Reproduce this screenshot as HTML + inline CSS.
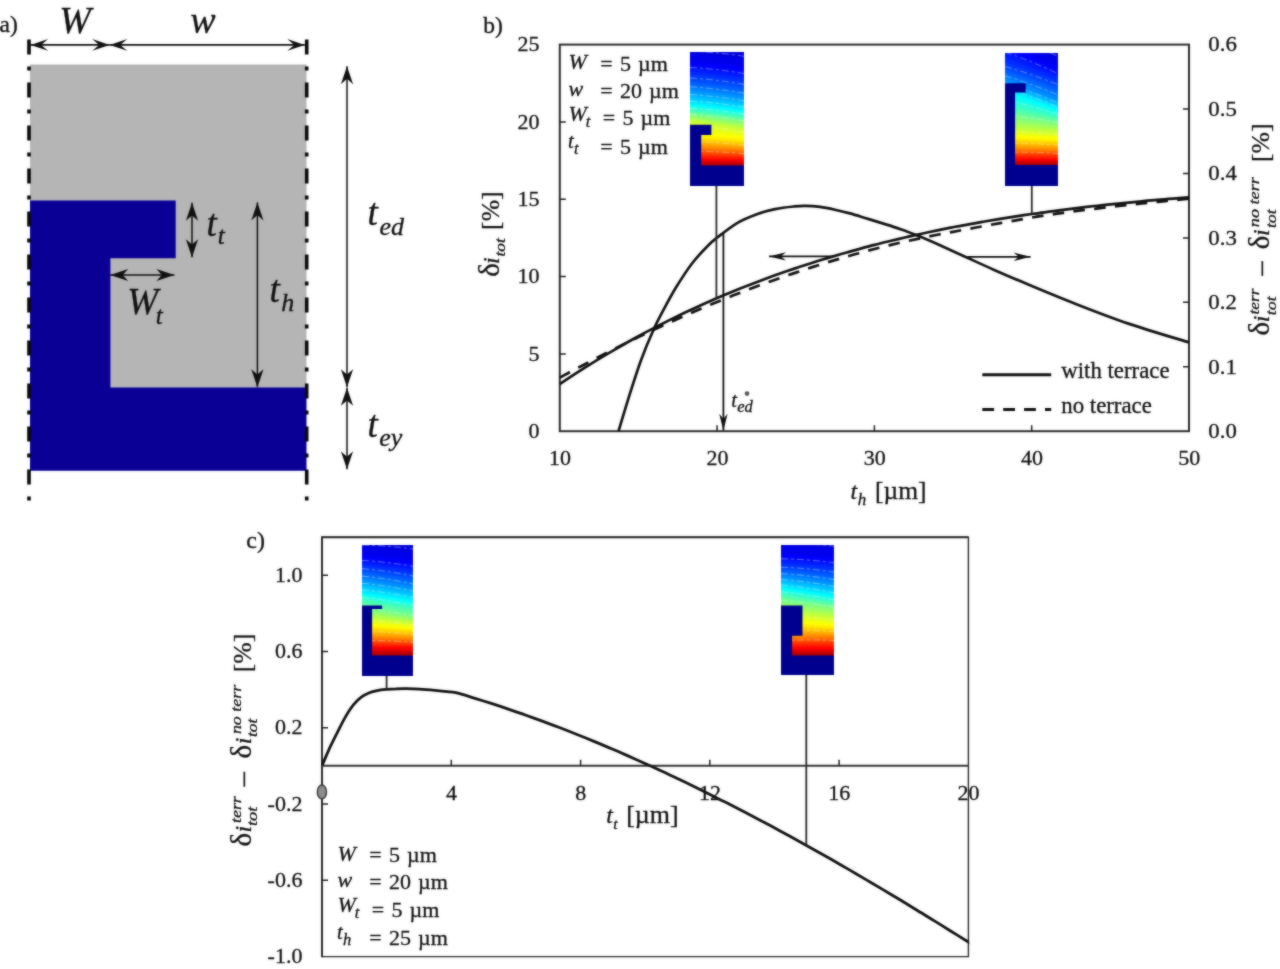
<!DOCTYPE html>
<html><head><meta charset="utf-8"><title>figure</title>
<style>
html,body{margin:0;padding:0;background:#fff;}
body{width:1280px;height:969px;overflow:hidden;}
svg{display:block}
text{font-family:"Liberation Serif",serif;fill:#111;stroke:#111;stroke-width:0.3px}
</style></head><body>
<svg width="1280" height="969" viewBox="0 0 1280 969">
<defs><filter id="bl" x="0" y="0" width="1280" height="969" filterUnits="userSpaceOnUse" color-interpolation-filters="sRGB"><feGaussianBlur stdDeviation="0.9"/></filter></defs>
<g id="all" opacity="0.999">
<rect x="0" y="0" width="1280" height="969" fill="#fff"/>

<g id="panel-a">
<rect x="30" y="64.5" width="276.5" height="325" fill="#b5b5b5"/>
<path d="M30 200.5 H175.7 V258.3 H110.4 V387.5 H306.5 V470.7 H30 Z" fill="#0a0096"/>
<line x1="29.0" y1="39.5" x2="29.0" y2="501" stroke="#0a0a0a" stroke-width="3.6" stroke-dasharray="15 12 4 12"/>
<line x1="306.7" y1="39.5" x2="306.7" y2="501" stroke="#0a0a0a" stroke-width="3.6" stroke-dasharray="15 12 4 12"/>
<line x1="30.60" y1="44.90" x2="109.70" y2="44.90" stroke="#111" stroke-width="1.7"/><path d="M109.70 44.90 L92.20 50.80 L99.20 44.90 L92.20 39.00 Z" fill="#111"/><path d="M30.60 44.90 L48.10 39.00 L41.10 44.90 L48.10 50.80 Z" fill="#111"/>
<line x1="109.70" y1="44.90" x2="304.80" y2="44.90" stroke="#111" stroke-width="1.7"/><path d="M304.80 44.90 L287.30 50.80 L294.30 44.90 L287.30 39.00 Z" fill="#111"/><path d="M109.70 44.90 L127.20 39.00 L120.20 44.90 L127.20 50.80 Z" fill="#111"/>
<text x="75.00" y="33.00" font-size="38" font-style="italic" text-anchor="middle">W</text>
<text x="203.00" y="33.00" font-size="38" font-style="italic" text-anchor="middle">w</text>
<line x1="192.00" y1="202.80" x2="192.00" y2="257.20" stroke="#111" stroke-width="1.5"/><path d="M192.00 257.20 L185.90 239.20 L192.00 244.60 L198.10 239.20 Z" fill="#111"/><path d="M192.00 202.80 L198.10 220.80 L192.00 215.40 L185.90 220.80 Z" fill="#111"/>
<line x1="110.20" y1="275.00" x2="174.40" y2="275.00" stroke="#111" stroke-width="1.5"/><path d="M174.40 275.00 L156.40 281.10 L161.80 275.00 L156.40 268.90 Z" fill="#111"/><path d="M110.20 275.00 L128.20 268.90 L122.80 275.00 L128.20 281.10 Z" fill="#111"/>
<line x1="257.40" y1="202.40" x2="257.40" y2="387.20" stroke="#111" stroke-width="1.5"/><path d="M257.40 387.20 L251.30 369.20 L257.40 374.60 L263.50 369.20 Z" fill="#111"/><path d="M257.40 202.40 L263.50 220.40 L257.40 215.00 L251.30 220.40 Z" fill="#111"/>
<line x1="347.00" y1="66.20" x2="347.00" y2="387.20" stroke="#111" stroke-width="1.5"/><path d="M347.00 387.20 L340.90 369.20 L347.00 374.60 L353.10 369.20 Z" fill="#111"/><path d="M347.00 66.20 L353.10 84.20 L347.00 78.80 L340.90 84.20 Z" fill="#111"/>
<line x1="347.00" y1="387.80" x2="347.00" y2="469.30" stroke="#111" stroke-width="1.5"/><path d="M347.00 469.30 L340.90 451.30 L347.00 456.70 L353.10 451.30 Z" fill="#111"/><path d="M347.00 387.80 L353.10 405.80 L347.00 400.40 L340.90 405.80 Z" fill="#111"/>
<text x="206.50" y="235.60" font-size="37" font-style="italic">t<tspan font-size="25" dy="8.5" dx="1">t</tspan></text>
<text x="127.30" y="313.80" font-size="37" font-style="italic">W<tspan font-size="25" dy="10" dx="-2.5">t</tspan></text>
<text x="269.50" y="302.00" font-size="37" font-style="italic">t<tspan font-size="26" dy="9" dx="1.5">h</tspan></text>
<text x="367.50" y="225.00" font-size="37" font-style="italic">t<tspan font-size="26" dy="9.5" dx="1.7">ed</tspan></text>
<text x="367.50" y="436.70" font-size="37" font-style="italic">t<tspan font-size="26" dy="9.5" dx="1.5">ey</tspan></text>
<text x="-0.50" y="31.60" font-size="23.5" text-anchor="start">a)</text>
</g>
<g id="panel-b">
<g><clipPath id="g1"><rect x="690.0" y="52.0" width="54.0" height="134.0"/></clipPath><g clip-path="url(#g1)"><rect x="690.0" y="51.0" width="54.0" height="136.0" fill="#0000db"/><path d="M690.0 53.6L744.0 59.0V187.0H690.0Z" fill="#0000eb"/><path d="M690.0 60.7L744.0 66.4V187.0H690.0Z" fill="#0000fb"/><path d="M690.0 64.8L744.0 70.7V187.0H690.0Z" fill="#000cff"/><path d="M690.0 68.1L744.0 74.1V187.0H690.0Z" fill="#001cff"/><path d="M690.0 71.4L744.0 77.5V187.0H690.0Z" fill="#002cff"/><path d="M690.0 74.6L744.0 80.9V187.0H690.0Z" fill="#003cff"/><path d="M690.0 77.9L744.0 84.3V187.0H690.0Z" fill="#004dff"/><path d="M690.0 81.2L744.0 87.7V187.0H690.0Z" fill="#005dff"/><path d="M690.0 83.8L744.0 90.4V187.0H690.0Z" fill="#006dff"/><path d="M690.0 86.3L744.0 92.8V187.0H690.0Z" fill="#007dff"/><path d="M690.0 88.7L744.0 95.1V187.0H690.0Z" fill="#008dff"/><path d="M690.0 91.1L744.0 97.5V187.0H690.0Z" fill="#009dff"/><path d="M690.0 93.6L744.0 99.9V187.0H690.0Z" fill="#00adff"/><path d="M690.0 95.8L744.0 102.0V187.0H690.0Z" fill="#00bdff"/><path d="M690.0 97.9L744.0 104.0V187.0H690.0Z" fill="#00cdff"/><path d="M690.0 99.9L744.0 106.0V187.0H690.0Z" fill="#00ddff"/><path d="M690.0 102.0L744.0 108.0V187.0H690.0Z" fill="#00edff"/><path d="M690.0 104.1L744.0 110.0V187.0H690.0Z" fill="#00fdff"/><path d="M690.0 105.5L744.0 111.5V187.0H690.0Z" fill="#0efff1"/><path d="M690.0 106.8L744.0 112.8V187.0H690.0Z" fill="#1effe1"/><path d="M690.0 108.1L744.0 114.2V187.0H690.0Z" fill="#2effd1"/><path d="M690.0 109.4L744.0 115.5V187.0H690.0Z" fill="#3effc1"/><path d="M690.0 110.7L744.0 116.9V187.0H690.0Z" fill="#4effb1"/><path d="M690.0 111.8L744.0 118.1V187.0H690.0Z" fill="#5effa1"/><path d="M690.0 113.0L744.0 119.4V187.0H690.0Z" fill="#6eff91"/><path d="M690.0 114.2L744.0 120.7V187.0H690.0Z" fill="#7eff81"/><path d="M690.0 115.4L744.0 122.3V187.0H690.0Z" fill="#8eff71"/><path d="M690.0 116.7L744.0 124.0V187.0H690.0Z" fill="#9eff61"/><path d="M690.0 118.0L744.0 125.6V187.0H690.0Z" fill="#aeff51"/><path d="M690.0 119.3L744.0 127.2V187.0H690.0Z" fill="#beff41"/><path d="M690.0 120.6L744.0 128.8V187.0H690.0Z" fill="#ceff31"/><path d="M690.0 123.7L744.0 131.2V187.0H690.0Z" fill="#deff21"/><path d="M690.0 127.3L744.0 133.8V187.0H690.0Z" fill="#eeff11"/><path d="M690.0 130.8L744.0 136.4V187.0H690.0Z" fill="#feff01"/><path d="M690.0 134.3L744.0 139.0V187.0H690.0Z" fill="#fff000"/><path d="M690.0 137.1L744.0 141.2V187.0H690.0Z" fill="#ffe000"/><path d="M690.0 138.8L744.0 142.6V187.0H690.0Z" fill="#ffd000"/><path d="M690.0 140.4L744.0 144.0V187.0H690.0Z" fill="#ffc000"/><path d="M690.0 142.0L744.0 145.5V187.0H690.0Z" fill="#ffb000"/><path d="M690.0 143.7L744.0 146.9V187.0H690.0Z" fill="#ffa000"/><path d="M690.0 145.3L744.0 148.3V187.0H690.0Z" fill="#ff9000"/><path d="M690.0 146.9L744.0 149.7V187.0H690.0Z" fill="#ff8000"/><path d="M690.0 148.4L744.0 151.0V187.0H690.0Z" fill="#ff6f00"/><path d="M690.0 149.8L744.0 152.2V187.0H690.0Z" fill="#ff5f00"/><path d="M690.0 151.3L744.0 153.5V187.0H690.0Z" fill="#ff4f00"/><path d="M690.0 152.7L744.0 154.7V187.0H690.0Z" fill="#ff3f00"/><path d="M690.0 154.2L744.0 156.0V187.0H690.0Z" fill="#ff2f00"/><path d="M690.0 155.6L744.0 157.2V187.0H690.0Z" fill="#ff1f00"/><path d="M690.0 157.1L744.0 158.4V187.0H690.0Z" fill="#ff0f00"/><path d="M690.0 158.5L744.0 159.7V187.0H690.0Z" fill="#fe0000"/><path d="M690.0 159.7L744.0 160.6V187.0H690.0Z" fill="#ee0000"/><path d="M690.0 160.8L744.0 161.6V187.0H690.0Z" fill="#de0000"/><path d="M690.0 162.0L744.0 162.5V187.0H690.0Z" fill="#ce0000"/><path d="M690.0 163.1L744.0 163.5V187.0H690.0Z" fill="#be0000"/><path d="M690.0 164.3L744.0 164.5V187.0H690.0Z" fill="#ae0000"/><path d="M690.0 165.4L744.0 165.4V187.0H690.0Z" fill="#9e0000"/><path d="M690.0 51.1Q717.0 52.2 744.0 56.3" fill="none" stroke="#fff" stroke-opacity="0.4" stroke-width="0.9" stroke-dasharray="7 3 3 3"/><path d="M690.0 67.5Q717.0 69.0 744.0 73.5" fill="none" stroke="#fff" stroke-opacity="0.4" stroke-width="0.9" stroke-dasharray="7 3 3 3"/><path d="M690.0 77.9Q717.0 79.6 744.0 84.3" fill="none" stroke="#fff" stroke-opacity="0.4" stroke-width="0.9" stroke-dasharray="7 3 3 3"/><path d="M690.0 86.7Q717.0 88.5 744.0 93.2" fill="none" stroke="#fff" stroke-opacity="0.4" stroke-width="0.9" stroke-dasharray="7 3 3 3"/><path d="M690.0 94.5Q717.0 96.1 744.0 100.7" fill="none" stroke="#fff" stroke-opacity="0.4" stroke-width="0.9" stroke-dasharray="7 3 3 3"/><path d="M690.0 101.1Q717.0 102.6 744.0 107.1" fill="none" stroke="#fff" stroke-opacity="0.4" stroke-width="0.9" stroke-dasharray="7 3 3 3"/><path d="M690.0 108.1Q717.0 109.7 744.0 114.2" fill="none" stroke="#fff" stroke-opacity="0.4" stroke-width="0.9" stroke-dasharray="7 3 3 3"/><path d="M690.0 114.3Q717.0 116.1 744.0 120.9" fill="none" stroke="#fff" stroke-opacity="0.4" stroke-width="0.9" stroke-dasharray="7 3 3 3"/><path d="M690.0 125.3Q717.0 127.4 744.0 132.4" fill="none" stroke="#fff" stroke-opacity="0.4" stroke-width="0.9" stroke-dasharray="7 3 3 3"/><path d="M690.0 141.7Q717.0 142.0 744.0 145.2" fill="none" stroke="#fff" stroke-opacity="0.4" stroke-width="0.9" stroke-dasharray="7 3 3 3"/><path d="M690.0 151.6Q717.0 151.1 744.0 153.7" fill="none" stroke="#fff" stroke-opacity="0.4" stroke-width="0.9" stroke-dasharray="7 3 3 3"/></g><path d="M690.0 124.7 H711.4 V134.9 H701.2 V165.4 H744.0 V186.0 H690.0 Z" fill="#00008f"/></g>
<g><clipPath id="g2"><rect x="1005.0" y="53.0" width="53.0" height="133.0"/></clipPath><g clip-path="url(#g2)"><rect x="1005.0" y="52.0" width="53.0" height="135.0" fill="#0000db"/><path d="M1005.0 38.6L1058.0 59.0V187.0H1005.0Z" fill="#0000eb"/><path d="M1005.0 43.8L1058.0 66.4V187.0H1005.0Z" fill="#0000fb"/><path d="M1005.0 48.4L1058.0 70.7V187.0H1005.0Z" fill="#000cff"/><path d="M1005.0 52.9L1058.0 74.2V187.0H1005.0Z" fill="#001cff"/><path d="M1005.0 57.4L1058.0 77.6V187.0H1005.0Z" fill="#002cff"/><path d="M1005.0 61.9L1058.0 81.1V187.0H1005.0Z" fill="#003cff"/><path d="M1005.0 66.4L1058.0 84.6V187.0H1005.0Z" fill="#004dff"/><path d="M1005.0 69.3L1058.0 87.8V187.0H1005.0Z" fill="#005dff"/><path d="M1005.0 72.2L1058.0 91.0V187.0H1005.0Z" fill="#006dff"/><path d="M1005.0 75.2L1058.0 94.3V187.0H1005.0Z" fill="#007dff"/><path d="M1005.0 78.1L1058.0 97.5V187.0H1005.0Z" fill="#008dff"/><path d="M1005.0 81.0L1058.0 100.8V187.0H1005.0Z" fill="#009dff"/><path d="M1005.0 82.6L1058.0 102.3V187.0H1005.0Z" fill="#00adff"/><path d="M1005.0 84.1L1058.0 103.7V187.0H1005.0Z" fill="#00bdff"/><path d="M1005.0 85.6L1058.0 105.0V187.0H1005.0Z" fill="#00cdff"/><path d="M1005.0 87.1L1058.0 106.4V187.0H1005.0Z" fill="#00ddff"/><path d="M1005.0 88.6L1058.0 107.8V187.0H1005.0Z" fill="#00edff"/><path d="M1005.0 90.1L1058.0 109.1V187.0H1005.0Z" fill="#00fdff"/><path d="M1005.0 93.3L1058.0 110.9V187.0H1005.0Z" fill="#0efff1"/><path d="M1005.0 96.6L1058.0 112.7V187.0H1005.0Z" fill="#1effe1"/><path d="M1005.0 100.0L1058.0 114.4V187.0H1005.0Z" fill="#2effd1"/><path d="M1005.0 103.4L1058.0 116.2V187.0H1005.0Z" fill="#3effc1"/><path d="M1005.0 106.4L1058.0 117.8V187.0H1005.0Z" fill="#4effb1"/><path d="M1005.0 109.2L1058.0 119.3V187.0H1005.0Z" fill="#5effa1"/><path d="M1005.0 112.0L1058.0 120.9V187.0H1005.0Z" fill="#6eff91"/><path d="M1005.0 114.8L1058.0 122.4V187.0H1005.0Z" fill="#7eff81"/><path d="M1005.0 117.5L1058.0 124.3V187.0H1005.0Z" fill="#8eff71"/><path d="M1005.0 120.2L1058.0 126.2V187.0H1005.0Z" fill="#9eff61"/><path d="M1005.0 122.9L1058.0 128.2V187.0H1005.0Z" fill="#aeff51"/><path d="M1005.0 125.6L1058.0 130.1V187.0H1005.0Z" fill="#beff41"/><path d="M1005.0 128.3L1058.0 132.1V187.0H1005.0Z" fill="#ceff31"/><path d="M1005.0 130.6L1058.0 133.9V187.0H1005.0Z" fill="#deff21"/><path d="M1005.0 132.8L1058.0 135.8V187.0H1005.0Z" fill="#eeff11"/><path d="M1005.0 135.0L1058.0 137.6V187.0H1005.0Z" fill="#feff01"/><path d="M1005.0 137.3L1058.0 139.5V187.0H1005.0Z" fill="#fff000"/><path d="M1005.0 139.2L1058.0 141.2V187.0H1005.0Z" fill="#ffe000"/><path d="M1005.0 140.8L1058.0 142.6V187.0H1005.0Z" fill="#ffd000"/><path d="M1005.0 142.4L1058.0 144.0V187.0H1005.0Z" fill="#ffc000"/><path d="M1005.0 143.9L1058.0 145.5V187.0H1005.0Z" fill="#ffb000"/><path d="M1005.0 145.5L1058.0 146.9V187.0H1005.0Z" fill="#ffa000"/><path d="M1005.0 147.0L1058.0 148.3V187.0H1005.0Z" fill="#ff9000"/><path d="M1005.0 148.6L1058.0 149.7V187.0H1005.0Z" fill="#ff8000"/><path d="M1005.0 149.8L1058.0 150.9V187.0H1005.0Z" fill="#ff6f00"/><path d="M1005.0 151.1L1058.0 152.1V187.0H1005.0Z" fill="#ff5f00"/><path d="M1005.0 152.3L1058.0 153.3V187.0H1005.0Z" fill="#ff4f00"/><path d="M1005.0 153.6L1058.0 154.5V187.0H1005.0Z" fill="#ff3f00"/><path d="M1005.0 154.8L1058.0 155.6V187.0H1005.0Z" fill="#ff2f00"/><path d="M1005.0 156.0L1058.0 156.8V187.0H1005.0Z" fill="#ff1f00"/><path d="M1005.0 157.3L1058.0 158.0V187.0H1005.0Z" fill="#ff0f00"/><path d="M1005.0 158.5L1058.0 159.2V187.0H1005.0Z" fill="#fe0000"/><path d="M1005.0 159.6L1058.0 160.1V187.0H1005.0Z" fill="#ee0000"/><path d="M1005.0 160.7L1058.0 161.1V187.0H1005.0Z" fill="#de0000"/><path d="M1005.0 161.7L1058.0 162.1V187.0H1005.0Z" fill="#ce0000"/><path d="M1005.0 162.8L1058.0 163.0V187.0H1005.0Z" fill="#be0000"/><path d="M1005.0 163.9L1058.0 164.0V187.0H1005.0Z" fill="#ae0000"/><path d="M1005.0 164.9L1058.0 164.9V187.0H1005.0Z" fill="#9e0000"/><path d="M1005.0 36.7Q1031.5 45.0 1058.0 56.3" fill="none" stroke="#fff" stroke-opacity="0.4" stroke-width="0.9" stroke-dasharray="7 3 3 3"/><path d="M1005.0 52.1Q1031.5 61.3 1058.0 73.6" fill="none" stroke="#fff" stroke-opacity="0.4" stroke-width="0.9" stroke-dasharray="7 3 3 3"/><path d="M1005.0 66.4Q1031.5 74.0 1058.0 84.6" fill="none" stroke="#fff" stroke-opacity="0.4" stroke-width="0.9" stroke-dasharray="7 3 3 3"/><path d="M1005.0 75.7Q1031.5 83.8 1058.0 94.9" fill="none" stroke="#fff" stroke-opacity="0.4" stroke-width="0.9" stroke-dasharray="7 3 3 3"/><path d="M1005.0 83.2Q1031.5 91.5 1058.0 102.8" fill="none" stroke="#fff" stroke-opacity="0.4" stroke-width="0.9" stroke-dasharray="7 3 3 3"/><path d="M1005.0 87.9Q1031.5 96.0 1058.0 107.1" fill="none" stroke="#fff" stroke-opacity="0.4" stroke-width="0.9" stroke-dasharray="7 3 3 3"/><path d="M1005.0 100.0Q1031.5 105.7 1058.0 114.4" fill="none" stroke="#fff" stroke-opacity="0.4" stroke-width="0.9" stroke-dasharray="7 3 3 3"/><path d="M1005.0 115.1Q1031.5 117.3 1058.0 122.5" fill="none" stroke="#fff" stroke-opacity="0.4" stroke-width="0.9" stroke-dasharray="7 3 3 3"/><path d="M1005.0 131.6Q1031.5 131.7 1058.0 134.8" fill="none" stroke="#fff" stroke-opacity="0.4" stroke-width="0.9" stroke-dasharray="7 3 3 3"/><path d="M1005.0 143.6Q1031.5 142.9 1058.0 145.2" fill="none" stroke="#fff" stroke-opacity="0.4" stroke-width="0.9" stroke-dasharray="7 3 3 3"/><path d="M1005.0 152.5Q1031.5 151.5 1058.0 153.5" fill="none" stroke="#fff" stroke-opacity="0.4" stroke-width="0.9" stroke-dasharray="7 3 3 3"/></g><path d="M1005.0 83.2 H1025.7 V92.5 H1015.1 V164.9 H1058.0 V186.0 H1005.0 Z" fill="#00008f"/></g>
<rect x="559.8" y="44.6" width="629.2" height="386.6" fill="none" stroke="#2a2a2a" stroke-width="2"/>
<path d="M717.1 431.2 v-6 M874.4 431.2 v-6 M1031.7 431.2 v-6 M559.8 353.9 h6 M559.8 276.6 h6 M559.8 199.2 h6 M559.8 121.9 h6 M1189.0 366.8 h-6 M1189.0 302.3 h-6 M1189.0 237.9 h-6 M1189.0 173.5 h-6 M1189.0 109.0 h-6" stroke="#222" stroke-width="1.5" fill="none"/>
<text x="560.10" y="464.70" font-size="22" text-anchor="middle">10</text>
<text x="717.40" y="464.70" font-size="22" text-anchor="middle">20</text>
<text x="874.70" y="464.70" font-size="22" text-anchor="middle">30</text>
<text x="1032.00" y="464.70" font-size="22" text-anchor="middle">40</text>
<text x="1189.30" y="464.70" font-size="22" text-anchor="middle">50</text>
<text x="539.50" y="438.00" font-size="22" text-anchor="end">0</text>
<text x="539.50" y="360.68" font-size="22" text-anchor="end">5</text>
<text x="539.50" y="283.36" font-size="22" text-anchor="end">10</text>
<text x="539.50" y="206.04" font-size="22" text-anchor="end">15</text>
<text x="539.50" y="128.72" font-size="22" text-anchor="end">20</text>
<text x="539.50" y="51.40" font-size="22" text-anchor="end">25</text>
<text x="1208.30" y="438.00" font-size="22" text-anchor="start" textLength="28.5" lengthAdjust="spacingAndGlyphs">0.0</text>
<text x="1208.30" y="373.57" font-size="22" text-anchor="start" textLength="28.5" lengthAdjust="spacingAndGlyphs">0.1</text>
<text x="1208.30" y="309.13" font-size="22" text-anchor="start" textLength="28.5" lengthAdjust="spacingAndGlyphs">0.2</text>
<text x="1208.30" y="244.70" font-size="22" text-anchor="start" textLength="28.5" lengthAdjust="spacingAndGlyphs">0.3</text>
<text x="1208.30" y="180.27" font-size="22" text-anchor="start" textLength="28.5" lengthAdjust="spacingAndGlyphs">0.4</text>
<text x="1208.30" y="115.83" font-size="22" text-anchor="start" textLength="28.5" lengthAdjust="spacingAndGlyphs">0.5</text>
<text x="1208.30" y="51.40" font-size="22" text-anchor="start" textLength="28.5" lengthAdjust="spacingAndGlyphs">0.6</text>
<path d="M618.5 431.2 C620.5 424.6 626.7 403.8 630.5 391.9 C634.3 380.0 637.4 370.0 641.2 359.7 C645.0 349.4 649.7 338.2 653.3 330.2 C656.9 322.1 658.9 318.5 662.7 311.4 C666.5 304.2 671.2 295.3 676.1 287.3 C681.0 279.3 686.8 270.2 692.2 263.2 C697.6 256.2 704.2 249.6 708.3 245.4 C712.4 241.2 712.0 241.6 716.9 237.8 C721.8 234.0 730.9 226.7 737.5 222.8 C744.1 218.9 750.0 216.7 756.2 214.4 C762.5 212.1 768.8 210.4 775.0 209.1 C781.2 207.8 788.8 207.0 793.8 206.5 C798.8 206.0 800.6 205.8 805.0 205.9 C809.4 206.0 815.0 206.3 820.0 206.9 C825.0 207.5 830.0 208.6 835.0 209.7 C840.0 210.8 844.4 211.8 850.0 213.4 C855.6 215.0 862.5 217.2 868.8 219.1 C875.0 221.0 881.2 222.9 887.5 224.9 C893.8 226.9 901.2 229.5 906.2 231.2 C911.2 233.0 911.9 233.3 917.5 235.6 C923.1 237.9 931.7 241.6 940.0 245.3 C948.3 249.0 958.4 253.7 967.4 257.8 C976.4 261.9 983.5 265.2 994.2 269.9 C1004.9 274.6 1018.4 280.4 1031.8 286.0 C1045.2 291.6 1058.6 297.2 1074.7 303.5 C1090.8 309.8 1109.4 317.1 1128.4 323.6 C1147.5 330.1 1178.9 339.3 1189.0 342.4" fill="none" stroke="#111" stroke-width="2.7"/>
<path d="M559.8 384.2 C562.4 382.4 570.3 377.1 575.5 373.7 C580.8 370.3 586.0 367.0 591.3 363.7 C596.5 360.5 601.7 357.3 607.0 354.2 C612.2 351.1 617.5 348.0 622.7 345.0 C628.0 342.0 633.2 339.1 638.4 336.3 C643.7 333.4 648.9 330.6 654.2 327.9 C659.4 325.2 664.7 322.5 669.9 319.9 C675.2 317.3 680.4 314.8 685.6 312.3 C690.9 309.8 696.1 307.4 701.4 305.0 C706.6 302.7 711.9 300.4 717.1 298.1 C722.3 295.8 727.6 293.6 732.8 291.5 C738.1 289.4 743.3 287.3 748.6 285.2 C753.8 283.2 759.0 281.2 764.3 279.2 C769.5 277.3 774.8 275.4 780.0 273.5 C785.3 271.7 790.5 269.9 795.8 268.1 C801.0 266.4 806.2 264.6 811.5 263.0 C816.7 261.3 822.0 259.7 827.2 258.1 C832.5 256.5 837.7 255.0 842.9 253.5 C848.2 252.0 853.4 250.5 858.7 249.1 C863.9 247.6 869.2 246.3 874.4 244.9 C879.6 243.6 884.9 242.2 890.1 241.0 C895.4 239.7 900.6 238.5 905.9 237.2 C911.1 236.0 916.3 234.9 921.6 233.7 C926.8 232.6 932.1 231.5 937.3 230.4 C942.6 229.3 947.8 228.3 953.0 227.2 C958.3 226.2 963.5 225.2 968.8 224.3 C974.0 223.3 979.3 222.4 984.5 221.5 C989.8 220.6 995.0 219.7 1000.2 218.8 C1005.5 218.0 1010.7 217.2 1016.0 216.4 C1021.2 215.6 1026.5 214.8 1031.7 214.0 C1036.9 213.3 1042.2 212.6 1047.4 211.8 C1052.7 211.1 1057.9 210.4 1063.2 209.8 C1068.4 209.1 1073.6 208.5 1078.9 207.8 C1084.1 207.2 1089.4 206.6 1094.6 206.0 C1099.9 205.5 1105.1 204.9 1110.3 204.3 C1115.6 203.8 1120.8 203.3 1126.1 202.8 C1131.3 202.2 1136.6 201.7 1141.8 201.3 C1147.1 200.8 1152.3 200.3 1157.5 199.9 C1162.8 199.4 1168.0 199.0 1173.3 198.6 C1178.5 198.2 1186.4 197.6 1189.0 197.4" fill="none" stroke="#111" stroke-width="2.7"/>
<path d="M559.8 377.6 C562.4 376.2 570.3 371.9 575.5 369.1 C580.8 366.3 586.0 363.6 591.3 360.8 C596.5 358.1 601.7 355.4 607.0 352.7 C612.2 350.0 617.5 347.4 622.7 344.8 C628.0 342.2 633.2 339.6 638.4 337.1 C643.7 334.6 648.9 332.1 654.2 329.6 C659.4 327.2 664.7 324.7 669.9 322.4 C675.2 320.0 680.4 317.6 685.6 315.3 C690.9 313.0 696.1 310.7 701.4 308.5 C706.6 306.3 711.9 304.1 717.1 301.9 C722.3 299.8 727.6 297.7 732.8 295.6 C738.1 293.5 743.3 291.5 748.6 289.5 C753.8 287.5 759.0 285.5 764.3 283.6 C769.5 281.7 774.8 279.8 780.0 278.0 C785.3 276.1 790.5 274.3 795.8 272.6 C801.0 270.8 806.2 269.1 811.5 267.4 C816.7 265.7 822.0 264.0 827.2 262.4 C832.5 260.8 837.7 259.3 842.9 257.7 C848.2 256.2 853.4 254.7 858.7 253.3 C863.9 251.8 869.2 250.4 874.4 249.0 C879.6 247.7 884.9 246.3 890.1 245.1 C895.4 243.8 900.6 242.6 905.9 241.4 C911.1 240.2 916.3 239.1 921.6 238.0 C926.8 236.9 932.1 235.8 937.3 234.8 C942.6 233.8 947.8 232.8 953.0 231.8 C958.3 230.8 963.5 229.8 968.8 228.9 C974.0 227.9 979.3 226.9 984.5 226.0 C989.8 225.0 995.0 224.0 1000.2 223.1 C1005.5 222.1 1010.7 221.2 1016.0 220.3 C1021.2 219.4 1026.5 218.5 1031.7 217.6 C1036.9 216.7 1042.2 215.9 1047.4 215.1 C1052.7 214.3 1057.9 213.6 1063.2 212.8 C1068.4 212.1 1073.6 211.4 1078.9 210.7 C1084.1 210.1 1089.4 209.4 1094.6 208.8 C1099.9 208.1 1105.1 207.5 1110.3 206.9 C1115.6 206.3 1120.8 205.7 1126.1 205.2 C1131.3 204.6 1136.6 204.0 1141.8 203.5 C1147.1 202.9 1152.3 202.4 1157.5 201.8 C1162.8 201.3 1168.0 200.8 1173.3 200.2 C1178.5 199.7 1186.4 198.9 1189.0 198.6" fill="none" stroke="#111" stroke-width="2.7" stroke-dasharray="11.5 9.4"/>
<line x1="716.4" y1="186" x2="716.4" y2="298" stroke="#2a2a2a" stroke-width="1.8"/>
<line x1="723.40" y1="233.60" x2="723.40" y2="430.40" stroke="#111" stroke-width="1.8"/><path d="M723.40 430.40 L719.20 413.80 L723.40 418.78 L727.60 413.80 Z" fill="#111"/>
<line x1="1031.8" y1="186" x2="1031.8" y2="213.5" stroke="#2a2a2a" stroke-width="1.8"/>
<line x1="833.00" y1="256.40" x2="769.00" y2="256.40" stroke="#111" stroke-width="1.7"/><path d="M769.00 256.40 L786.00 252.20 L780.90 256.40 L786.00 260.60 Z" fill="#111"/>
<line x1="967.40" y1="256.80" x2="1030.60" y2="256.80" stroke="#111" stroke-width="1.7"/><path d="M1030.60 256.80 L1013.60 261.00 L1018.70 256.80 L1013.60 252.60 Z" fill="#111"/>
<text x="731.3" y="407" font-size="20.5" font-style="italic">t<tspan font-size="16.5" dy="4.6" dx="0.3">ed</tspan></text>
<circle cx="747" cy="393.6" r="2.3" fill="#555"/>
<line x1="982.3" y1="374.7" x2="1051.2" y2="374.7" stroke="#111" stroke-width="3"/>
<line x1="982.3" y1="409.6" x2="1051.2" y2="409.6" stroke="#111" stroke-width="3" stroke-dasharray="11.8 9.1"/>
<text x="1061.30" y="377.80" font-size="22.8" text-anchor="start">with terrace</text>
<text x="1061.30" y="413.20" font-size="22.8" text-anchor="start">no terrace</text>
<text x="568.40" y="69.40" font-size="22" font-style="italic" text-anchor="start">W</text><text x="600.30" y="70.80" font-size="22" text-anchor="start"  word-spacing="1.7">= 5 µm</text><text x="568.50" y="95.60" font-size="22" font-style="italic" text-anchor="start">w</text><text x="600.30" y="98.00" font-size="22" text-anchor="start"  word-spacing="1.7">= 20 µm</text><text x="568.40" y="120.80" font-size="22" font-style="italic">W<tspan font-size="16.5" dy="6" dx="-1">t</tspan></text><text x="602.80" y="125.30" font-size="22" text-anchor="start"  word-spacing="1.7">= 5 µm</text><text x="568.00" y="148.00" font-size="20.5" font-style="italic">t<tspan font-size="16.5" dy="5.5" dx="0.3">t</tspan></text><text x="600.30" y="153.60" font-size="22" text-anchor="start"  word-spacing="1.7">= 5 µm</text>
<text x="850.60" y="499.30" font-size="24" font-style="italic">t</text><text x="857.80" y="505.30" font-size="17" font-style="italic">h</text><text x="875.00" y="499.30" font-size="26" textLength="51.5" lengthAdjust="spacingAndGlyphs">[µm]</text>
<g transform="translate(499.40 275.90) rotate(-90)"><text x="-0.80" y="0.00" font-size="29">δ</text><text x="12.00" y="0.00" font-size="24" font-style="italic">i</text><text x="19.40" y="5.10" font-size="15" font-style="italic" textLength="18.4" lengthAdjust="spacingAndGlyphs">tot</text><text x="46.00" y="0.00" font-size="26" textLength="38.5" lengthAdjust="spacingAndGlyphs">[%]</text></g>
<g transform="translate(1269.30 334.80) rotate(-90)"><text x="-0.80" y="0.00" font-size="29">δ</text><text x="12.60" y="0.00" font-size="24" font-style="italic">i</text><text x="19.60" y="6.20" font-size="15" font-style="italic" textLength="18.8" lengthAdjust="spacingAndGlyphs">tot</text><text x="20.20" y="-10.60" font-size="15" font-style="italic" textLength="26.2" lengthAdjust="spacingAndGlyphs">terr</text><text x="57.70" y="2.00" font-size="26" textLength="17.6" lengthAdjust="spacingAndGlyphs">−</text><text x="85.50" y="0.00" font-size="29">δ</text><text x="98.70" y="0.00" font-size="24" font-style="italic">i</text><text x="106.70" y="6.20" font-size="15" font-style="italic" textLength="18.8" lengthAdjust="spacingAndGlyphs">tot</text><text x="107.60" y="-10.60" font-size="15" font-style="italic" textLength="50.0" lengthAdjust="spacingAndGlyphs">no terr</text><text x="172.80" y="0.00" font-size="26" textLength="38.5" lengthAdjust="spacingAndGlyphs">[%]</text></g>
<text x="483.20" y="33.00" font-size="23.5" text-anchor="start">b)</text>
</g>
<g id="panel-c">
<g><clipPath id="g3"><rect x="362.0" y="545.0" width="51.0" height="131.0"/></clipPath><g clip-path="url(#g3)"><rect x="362.0" y="544.0" width="51.0" height="133.0" fill="#0000db"/><path d="M362.0 547.6L413.0 551.9V677.0H362.0Z" fill="#0000eb"/><path d="M362.0 554.7L413.0 559.8V677.0H362.0Z" fill="#0000fb"/><path d="M362.0 558.3L413.0 563.9V677.0H362.0Z" fill="#000cff"/><path d="M362.0 560.9L413.0 566.9V677.0H362.0Z" fill="#001cff"/><path d="M362.0 563.5L413.0 569.9V677.0H362.0Z" fill="#002cff"/><path d="M362.0 566.0L413.0 573.0V677.0H362.0Z" fill="#003cff"/><path d="M362.0 568.6L413.0 576.0V677.0H362.0Z" fill="#004dff"/><path d="M362.0 570.9L413.0 578.5V677.0H362.0Z" fill="#005dff"/><path d="M362.0 573.3L413.0 581.0V677.0H362.0Z" fill="#006dff"/><path d="M362.0 575.6L413.0 583.5V677.0H362.0Z" fill="#007dff"/><path d="M362.0 578.0L413.0 586.0V677.0H362.0Z" fill="#008dff"/><path d="M362.0 580.3L413.0 588.5V677.0H362.0Z" fill="#009dff"/><path d="M362.0 582.4L413.0 590.5V677.0H362.0Z" fill="#00adff"/><path d="M362.0 584.5L413.0 592.5V677.0H362.0Z" fill="#00bdff"/><path d="M362.0 586.6L413.0 594.4V677.0H362.0Z" fill="#00cdff"/><path d="M362.0 588.7L413.0 596.4V677.0H362.0Z" fill="#00ddff"/><path d="M362.0 590.8L413.0 598.3V677.0H362.0Z" fill="#00edff"/><path d="M362.0 592.9L413.0 600.3V677.0H362.0Z" fill="#00fdff"/><path d="M362.0 594.4L413.0 602.0V677.0H362.0Z" fill="#0efff1"/><path d="M362.0 595.9L413.0 603.7V677.0H362.0Z" fill="#1effe1"/><path d="M362.0 597.4L413.0 605.4V677.0H362.0Z" fill="#2effd1"/><path d="M362.0 598.8L413.0 607.1V677.0H362.0Z" fill="#3effc1"/><path d="M362.0 600.4L413.0 608.8V677.0H362.0Z" fill="#4effb1"/><path d="M362.0 602.9L413.0 611.1V677.0H362.0Z" fill="#5effa1"/><path d="M362.0 605.4L413.0 613.4V677.0H362.0Z" fill="#6eff91"/><path d="M362.0 607.8L413.0 615.8V677.0H362.0Z" fill="#7eff81"/><path d="M362.0 609.8L413.0 617.2V677.0H362.0Z" fill="#8eff71"/><path d="M362.0 611.7L413.0 618.6V677.0H362.0Z" fill="#9eff61"/><path d="M362.0 613.6L413.0 620.0V677.0H362.0Z" fill="#aeff51"/><path d="M362.0 615.5L413.0 621.4V677.0H362.0Z" fill="#beff41"/><path d="M362.0 617.4L413.0 622.7V677.0H362.0Z" fill="#ceff31"/><path d="M362.0 619.3L413.0 624.3V677.0H362.0Z" fill="#deff21"/><path d="M362.0 621.3L413.0 625.8V677.0H362.0Z" fill="#eeff11"/><path d="M362.0 623.3L413.0 627.4V677.0H362.0Z" fill="#feff01"/><path d="M362.0 625.2L413.0 629.0V677.0H362.0Z" fill="#fff000"/><path d="M362.0 627.1L413.0 630.5V677.0H362.0Z" fill="#ffe000"/><path d="M362.0 628.7L413.0 631.9V677.0H362.0Z" fill="#ffd000"/><path d="M362.0 630.4L413.0 633.3V677.0H362.0Z" fill="#ffc000"/><path d="M362.0 632.1L413.0 634.6V677.0H362.0Z" fill="#ffb000"/><path d="M362.0 633.7L413.0 636.0V677.0H362.0Z" fill="#ffa000"/><path d="M362.0 635.4L413.0 637.4V677.0H362.0Z" fill="#ff9000"/><path d="M362.0 637.0L413.0 638.8V677.0H362.0Z" fill="#ff8000"/><path d="M362.0 638.2L413.0 639.9V677.0H362.0Z" fill="#ff6f00"/><path d="M362.0 639.4L413.0 641.0V677.0H362.0Z" fill="#ff5f00"/><path d="M362.0 640.7L413.0 642.1V677.0H362.0Z" fill="#ff4f00"/><path d="M362.0 641.9L413.0 643.2V677.0H362.0Z" fill="#ff3f00"/><path d="M362.0 643.1L413.0 644.3V677.0H362.0Z" fill="#ff2f00"/><path d="M362.0 644.3L413.0 645.4V677.0H362.0Z" fill="#ff1f00"/><path d="M362.0 645.5L413.0 646.5V677.0H362.0Z" fill="#ff0f00"/><path d="M362.0 646.7L413.0 647.6V677.0H362.0Z" fill="#fe0000"/><path d="M362.0 648.2L413.0 648.9V677.0H362.0Z" fill="#ee0000"/><path d="M362.0 649.6L413.0 650.2V677.0H362.0Z" fill="#de0000"/><path d="M362.0 651.1L413.0 651.5V677.0H362.0Z" fill="#ce0000"/><path d="M362.0 652.5L413.0 652.8V677.0H362.0Z" fill="#be0000"/><path d="M362.0 654.0L413.0 654.1V677.0H362.0Z" fill="#ae0000"/><path d="M362.0 655.4L413.0 655.4V677.0H362.0Z" fill="#9e0000"/><path d="M362.0 545.0Q387.5 545.5 413.0 549.0" fill="none" stroke="#fff" stroke-opacity="0.4" stroke-width="0.9" stroke-dasharray="7 3 3 3"/><path d="M362.0 560.4Q387.5 561.9 413.0 566.4" fill="none" stroke="#fff" stroke-opacity="0.4" stroke-width="0.9" stroke-dasharray="7 3 3 3"/><path d="M362.0 568.6Q387.5 570.8 413.0 576.0" fill="none" stroke="#fff" stroke-opacity="0.4" stroke-width="0.9" stroke-dasharray="7 3 3 3"/><path d="M362.0 576.1Q387.5 578.5 413.0 584.0" fill="none" stroke="#fff" stroke-opacity="0.4" stroke-width="0.9" stroke-dasharray="7 3 3 3"/><path d="M362.0 583.2Q387.5 585.7 413.0 591.2" fill="none" stroke="#fff" stroke-opacity="0.4" stroke-width="0.9" stroke-dasharray="7 3 3 3"/><path d="M362.0 589.8Q387.5 592.1 413.0 597.4" fill="none" stroke="#fff" stroke-opacity="0.4" stroke-width="0.9" stroke-dasharray="7 3 3 3"/><path d="M362.0 597.4Q387.5 599.9 413.0 605.4" fill="none" stroke="#fff" stroke-opacity="0.4" stroke-width="0.9" stroke-dasharray="7 3 3 3"/><path d="M362.0 608.1Q387.5 610.5 413.0 616.0" fill="none" stroke="#fff" stroke-opacity="0.4" stroke-width="0.9" stroke-dasharray="7 3 3 3"/><path d="M362.0 620.2Q387.5 621.1 413.0 625.0" fill="none" stroke="#fff" stroke-opacity="0.4" stroke-width="0.9" stroke-dasharray="7 3 3 3"/><path d="M362.0 631.8Q387.5 631.6 413.0 634.4" fill="none" stroke="#fff" stroke-opacity="0.4" stroke-width="0.9" stroke-dasharray="7 3 3 3"/><path d="M362.0 640.9Q387.5 640.1 413.0 642.3" fill="none" stroke="#fff" stroke-opacity="0.4" stroke-width="0.9" stroke-dasharray="7 3 3 3"/></g><path d="M362.0 605.4 H382.1 V609.0 H372.1 V655.4 H413.0 V676.0 H362.0 Z" fill="#00008f"/></g>
<g><clipPath id="g4"><rect x="781.0" y="545.0" width="53.0" height="130.0"/></clipPath><g clip-path="url(#g4)"><rect x="781.0" y="544.0" width="53.0" height="132.0" fill="#0000db"/><path d="M781.0 545.9L834.0 548.9V676.0H781.0Z" fill="#0000eb"/><path d="M781.0 553.0L834.0 556.4V676.0H781.0Z" fill="#0000fb"/><path d="M781.0 556.6L834.0 560.3V676.0H781.0Z" fill="#000cff"/><path d="M781.0 559.3L834.0 563.3V676.0H781.0Z" fill="#001cff"/><path d="M781.0 561.9L834.0 566.2V676.0H781.0Z" fill="#002cff"/><path d="M781.0 564.5L834.0 569.2V676.0H781.0Z" fill="#003cff"/><path d="M781.0 567.2L834.0 572.1V676.0H781.0Z" fill="#004dff"/><path d="M781.0 569.2L834.0 574.4V676.0H781.0Z" fill="#005dff"/><path d="M781.0 571.2L834.0 576.8V676.0H781.0Z" fill="#006dff"/><path d="M781.0 573.2L834.0 579.1V676.0H781.0Z" fill="#007dff"/><path d="M781.0 575.2L834.0 581.5V676.0H781.0Z" fill="#008dff"/><path d="M781.0 577.2L834.0 583.8V676.0H781.0Z" fill="#009dff"/><path d="M781.0 578.9L834.0 585.8V676.0H781.0Z" fill="#00adff"/><path d="M781.0 580.6L834.0 587.8V676.0H781.0Z" fill="#00bdff"/><path d="M781.0 582.3L834.0 589.8V676.0H781.0Z" fill="#00cdff"/><path d="M781.0 583.9L834.0 591.7V676.0H781.0Z" fill="#00ddff"/><path d="M781.0 585.6L834.0 593.7V676.0H781.0Z" fill="#00edff"/><path d="M781.0 587.3L834.0 595.7V676.0H781.0Z" fill="#00fdff"/><path d="M781.0 588.8L834.0 597.1V676.0H781.0Z" fill="#0efff1"/><path d="M781.0 590.3L834.0 598.5V676.0H781.0Z" fill="#1effe1"/><path d="M781.0 591.8L834.0 599.9V676.0H781.0Z" fill="#2effd1"/><path d="M781.0 593.2L834.0 601.2V676.0H781.0Z" fill="#3effc1"/><path d="M781.0 594.7L834.0 602.6V676.0H781.0Z" fill="#4effb1"/><path d="M781.0 596.5L834.0 604.1V676.0H781.0Z" fill="#5effa1"/><path d="M781.0 598.3L834.0 605.6V676.0H781.0Z" fill="#6eff91"/><path d="M781.0 600.0L834.0 607.1V676.0H781.0Z" fill="#7eff81"/><path d="M781.0 602.4L834.0 609.1V676.0H781.0Z" fill="#8eff71"/><path d="M781.0 604.8L834.0 611.1V676.0H781.0Z" fill="#9eff61"/><path d="M781.0 607.2L834.0 613.2V676.0H781.0Z" fill="#aeff51"/><path d="M781.0 609.6L834.0 615.3V676.0H781.0Z" fill="#beff41"/><path d="M781.0 612.0L834.0 617.3V676.0H781.0Z" fill="#ceff31"/><path d="M781.0 614.6L834.0 619.5V676.0H781.0Z" fill="#deff21"/><path d="M781.0 617.1L834.0 621.7V676.0H781.0Z" fill="#eeff11"/><path d="M781.0 619.7L834.0 623.8V676.0H781.0Z" fill="#feff01"/><path d="M781.0 622.2L834.0 626.0V676.0H781.0Z" fill="#fff000"/><path d="M781.0 624.6L834.0 627.9V676.0H781.0Z" fill="#ffe000"/><path d="M781.0 626.6L834.0 629.2V676.0H781.0Z" fill="#ffd000"/><path d="M781.0 628.6L834.0 630.6V676.0H781.0Z" fill="#ffc000"/><path d="M781.0 630.6L834.0 632.0V676.0H781.0Z" fill="#ffb000"/><path d="M781.0 632.6L834.0 633.4V676.0H781.0Z" fill="#ffa000"/><path d="M781.0 634.7L834.0 634.8V676.0H781.0Z" fill="#ff9000"/><path d="M781.0 636.7L834.0 636.1V676.0H781.0Z" fill="#ff8000"/><path d="M781.0 637.9L834.0 637.5V676.0H781.0Z" fill="#ff6f00"/><path d="M781.0 639.2L834.0 638.9V676.0H781.0Z" fill="#ff5f00"/><path d="M781.0 640.4L834.0 640.3V676.0H781.0Z" fill="#ff4f00"/><path d="M781.0 641.7L834.0 641.7V676.0H781.0Z" fill="#ff3f00"/><path d="M781.0 643.1L834.0 643.1V676.0H781.0Z" fill="#ff2f00"/><path d="M781.0 644.6L834.0 644.6V676.0H781.0Z" fill="#ff1f00"/><path d="M781.0 646.1L834.0 646.1V676.0H781.0Z" fill="#ff0f00"/><path d="M781.0 647.6L834.0 647.6V676.0H781.0Z" fill="#fe0000"/><path d="M781.0 648.9L834.0 648.9V676.0H781.0Z" fill="#ee0000"/><path d="M781.0 650.2L834.0 650.2V676.0H781.0Z" fill="#de0000"/><path d="M781.0 651.5L834.0 651.5V676.0H781.0Z" fill="#ce0000"/><path d="M781.0 652.8L834.0 652.8V676.0H781.0Z" fill="#be0000"/><path d="M781.0 654.1L834.0 654.1V676.0H781.0Z" fill="#ae0000"/><path d="M781.0 655.4L834.0 655.4V676.0H781.0Z" fill="#9e0000"/><path d="M781.0 543.3Q807.5 543.2 834.0 546.2" fill="none" stroke="#fff" stroke-opacity="0.4" stroke-width="0.9" stroke-dasharray="7 3 3 3"/><path d="M781.0 558.8Q807.5 559.3 834.0 562.7" fill="none" stroke="#fff" stroke-opacity="0.4" stroke-width="0.9" stroke-dasharray="7 3 3 3"/><path d="M781.0 567.2Q807.5 568.1 834.0 572.1" fill="none" stroke="#fff" stroke-opacity="0.4" stroke-width="0.9" stroke-dasharray="7 3 3 3"/><path d="M781.0 573.6Q807.5 575.1 834.0 579.6" fill="none" stroke="#fff" stroke-opacity="0.4" stroke-width="0.9" stroke-dasharray="7 3 3 3"/><path d="M781.0 579.5Q807.5 581.5 834.0 586.5" fill="none" stroke="#fff" stroke-opacity="0.4" stroke-width="0.9" stroke-dasharray="7 3 3 3"/><path d="M781.0 584.9Q807.5 587.3 834.0 592.8" fill="none" stroke="#fff" stroke-opacity="0.4" stroke-width="0.9" stroke-dasharray="7 3 3 3"/><path d="M781.0 591.8Q807.5 594.3 834.0 599.9" fill="none" stroke="#fff" stroke-opacity="0.4" stroke-width="0.9" stroke-dasharray="7 3 3 3"/><path d="M781.0 600.2Q807.5 602.2 834.0 607.2" fill="none" stroke="#fff" stroke-opacity="0.4" stroke-width="0.9" stroke-dasharray="7 3 3 3"/><path d="M781.0 615.7Q807.5 616.6 834.0 620.5" fill="none" stroke="#fff" stroke-opacity="0.4" stroke-width="0.9" stroke-dasharray="7 3 3 3"/><path d="M781.0 630.3Q807.5 629.5 834.0 631.8" fill="none" stroke="#fff" stroke-opacity="0.4" stroke-width="0.9" stroke-dasharray="7 3 3 3"/><path d="M781.0 640.7Q807.5 639.1 834.0 640.5" fill="none" stroke="#fff" stroke-opacity="0.4" stroke-width="0.9" stroke-dasharray="7 3 3 3"/></g><path d="M781.0 605.4 H802.5 V635.8 H792.1 V655.4 H834.0 V675.0 H781.0 Z" fill="#00008f"/></g>
<path d="M322.0 537.2 H968.4 V956.6 H322.0" fill="none" stroke="#2a2a2a" stroke-width="1.4"/>
<path d="M322.0 957.3 V537.2 H968.4" fill="none" stroke="#2a2a2a" stroke-width="2"/>
<line x1="322.0" y1="765.8" x2="968.4" y2="765.8" stroke="#333" stroke-width="2"/>
<path d="M451.3 765.8 v-6 M580.6 765.8 v-6 M709.8 765.8 v-6 M839.1 765.8 v-6 M322.0 575.2 h6 M322.0 651.4 h6 M322.0 727.7 h6 M322.0 803.9 h6 M322.0 880.2 h6" stroke="#222" stroke-width="1.5" fill="none"/>
<text x="451.48" y="799.80" font-size="22" text-anchor="middle">4</text>
<text x="580.76" y="799.80" font-size="22" text-anchor="middle">8</text>
<text x="710.04" y="799.80" font-size="22" text-anchor="middle">12</text>
<text x="839.32" y="799.80" font-size="22" text-anchor="middle">16</text>
<text x="968.60" y="799.80" font-size="22" text-anchor="middle">20</text>
<text x="302.40" y="582.00" font-size="22" text-anchor="end">1.0</text>
<text x="302.40" y="658.24" font-size="22" text-anchor="end">0.6</text>
<text x="302.40" y="734.48" font-size="22" text-anchor="end">0.2</text>
<text x="302.40" y="810.72" font-size="22" text-anchor="end">-0.2</text>
<text x="302.40" y="886.96" font-size="22" text-anchor="end">-0.6</text>
<text x="302.40" y="963.20" font-size="22" text-anchor="end">-1.0</text>
<ellipse cx="321.9" cy="792.0" rx="4.6" ry="7.0" fill="#8c8c8c" stroke="#3a3a3a" stroke-width="1.4"/>
<clipPath id="cc"><rect x="321.0" y="537.2" width="648.4" height="419.4"/></clipPath>
<path d="M322.2 765.2 C323.6 762.1 327.6 752.3 330.3 746.6 C333.0 740.9 335.5 736.0 338.1 730.9 C340.7 725.8 343.3 720.5 345.9 716.1 C348.5 711.7 351.1 707.6 353.8 704.4 C356.4 701.2 359.0 698.8 361.6 696.9 C364.2 695.0 366.8 693.8 369.4 692.7 C372.0 691.7 374.3 691.2 377.2 690.6 C380.1 690.0 383.5 689.7 386.6 689.4 C389.7 689.1 392.5 688.9 395.9 688.8 C399.3 688.6 403.0 688.5 406.9 688.6 C410.8 688.7 414.7 688.8 419.4 689.1 C424.1 689.4 430.3 689.9 435.0 690.3 C439.7 690.7 443.7 691.1 447.5 691.6 C451.3 692.1 453.4 692.1 458.0 693.2 C462.6 694.4 469.3 696.6 475.0 698.3 C480.7 700.1 486.3 701.9 492.0 703.7 C497.7 705.5 503.3 707.4 509.0 709.4 C514.7 711.3 520.3 713.2 526.0 715.3 C531.7 717.3 537.3 719.3 543.0 721.4 C548.7 723.5 554.3 725.7 560.0 727.8 C565.7 730.0 571.3 732.2 577.0 734.5 C582.7 736.7 588.3 739.0 594.0 741.4 C599.7 743.7 605.3 746.1 611.0 748.5 C616.7 750.9 622.3 753.4 628.0 755.9 C633.7 758.4 639.3 760.9 645.0 763.5 C650.7 766.0 656.3 768.6 662.0 771.3 C667.7 773.9 673.3 776.6 679.0 779.3 C684.7 782.0 690.3 784.7 696.0 787.5 C701.7 790.3 707.3 793.1 713.0 795.9 C718.7 798.7 724.3 801.6 730.0 804.5 C735.7 807.4 741.3 810.3 747.0 813.3 C752.7 816.3 758.3 819.2 764.0 822.3 C769.7 825.3 775.3 828.3 781.0 831.4 C786.7 834.5 792.3 837.6 798.0 840.7 C803.7 843.9 809.3 847.0 815.0 850.2 C820.7 853.4 826.3 856.6 832.0 859.8 C837.7 863.1 843.3 866.3 849.0 869.6 C854.7 872.9 860.3 876.2 866.0 879.6 C871.7 882.9 877.3 886.2 883.0 889.6 C888.7 893.0 894.3 896.4 900.0 899.8 C905.7 903.3 911.3 906.7 917.0 910.2 C922.7 913.6 928.3 917.1 934.0 920.6 C939.7 924.1 945.3 927.6 951.0 931.2 C956.7 934.7 965.1 940.0 968.0 941.8 C970.9 943.7 968.3 942.1 968.4 942.1" fill="none" stroke="#111" stroke-width="2.8" clip-path="url(#cc)"/>
<line x1="386.6" y1="676" x2="386.6" y2="689.4" stroke="#2a2a2a" stroke-width="1.8"/>
<line x1="806.3" y1="675" x2="806.3" y2="845.2" stroke="#2a2a2a" stroke-width="1.8"/>
<text x="337.40" y="860.80" font-size="22" font-style="italic" text-anchor="start">W</text><text x="369.30" y="862.20" font-size="22" text-anchor="start"  word-spacing="1.7">= 5 µm</text><text x="337.50" y="887.00" font-size="22" font-style="italic" text-anchor="start">w</text><text x="369.30" y="889.40" font-size="22" text-anchor="start"  word-spacing="1.7">= 20 µm</text><text x="337.40" y="912.20" font-size="22" font-style="italic">W<tspan font-size="16.5" dy="6" dx="-1">t</tspan></text><text x="371.80" y="916.70" font-size="22" text-anchor="start"  word-spacing="1.7">= 5 µm</text><text x="337.00" y="939.40" font-size="20.5" font-style="italic">t<tspan font-size="16.5" dy="5.5" dx="0.3">h</tspan></text><text x="369.30" y="945.00" font-size="22" text-anchor="start"  word-spacing="1.7">= 25 µm</text>
<text x="606.20" y="822.90" font-size="24" font-style="italic">t</text><text x="613.20" y="828.90" font-size="15.5" font-style="italic">t</text><text x="626.20" y="822.90" font-size="26" textLength="52.5" lengthAdjust="spacingAndGlyphs">[µm]</text>
<g transform="translate(251.00 845.70) rotate(-90)"><text x="-0.80" y="0.00" font-size="29">δ</text><text x="13.20" y="0.00" font-size="24" font-style="italic">i</text><text x="19.60" y="6.30" font-size="15" font-style="italic" textLength="19.4" lengthAdjust="spacingAndGlyphs">tot</text><text x="22.70" y="-9.70" font-size="15" font-style="italic" textLength="26.8" lengthAdjust="spacingAndGlyphs">terr</text><text x="58.00" y="2.00" font-size="26" textLength="17.6" lengthAdjust="spacingAndGlyphs">−</text><text x="87.30" y="0.00" font-size="29">δ</text><text x="101.40" y="0.00" font-size="24" font-style="italic">i</text><text x="108.70" y="6.30" font-size="15" font-style="italic" textLength="18.4" lengthAdjust="spacingAndGlyphs">tot</text><text x="111.60" y="-9.70" font-size="15" font-style="italic" textLength="49.4" lengthAdjust="spacingAndGlyphs">no terr</text><text x="173.50" y="0.00" font-size="26" textLength="38.5" lengthAdjust="spacingAndGlyphs">[%]</text></g>
<text x="246.30" y="548.30" font-size="24" text-anchor="start">c)</text>
</g>
</g>
<use href="#all" filter="url(#bl)" opacity="0.5"/>
</svg></body></html>
